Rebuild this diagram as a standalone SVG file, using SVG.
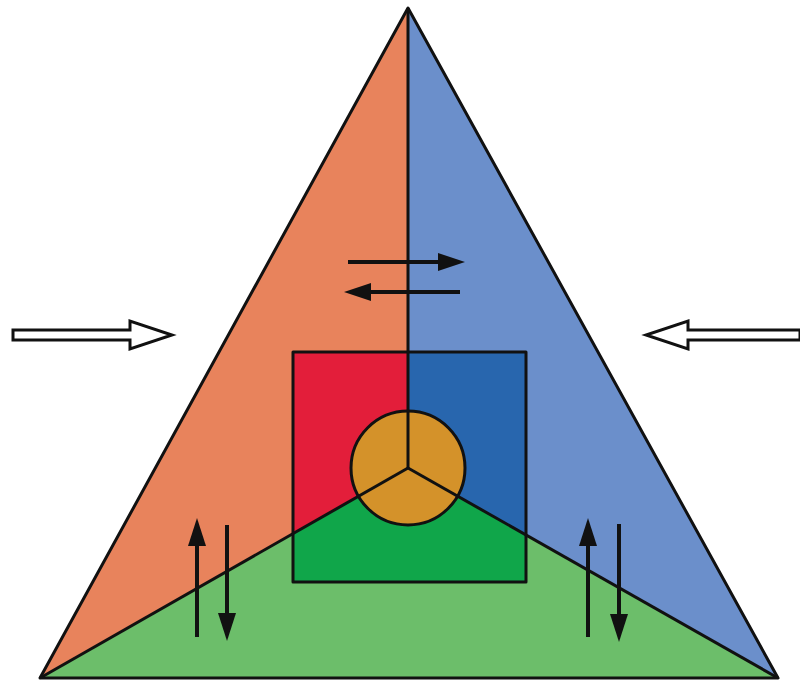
<svg xmlns="http://www.w3.org/2000/svg" width="800" height="683" viewBox="0 0 800 683">
<defs>
<style>
.edge{stroke:#111;stroke-width:3;stroke-linejoin:round;fill:none}
.arr{stroke:#111;stroke-width:4;fill:none}
.head{fill:#111}
.hollow{fill:#fff;stroke:#111;stroke-width:3;stroke-linejoin:miter}
</style>
<clipPath id="sq"><rect x="293" y="352" width="233" height="230"/></clipPath>
</defs>
<rect width="800" height="683" fill="#fff"/>
<g id="triangle">
<polygon points="408,8 408,468 40,678" fill="#E8835C"/>
<polygon points="408,8 778,678 408,468" fill="#6B8FCB"/>
<polygon points="40,678 408,468 778,678" fill="#6CBE6A"/>
</g>
<g id="square">
<g clip-path="url(#sq)">
<polygon points="408,8 408,468 40,678" fill="#E31E3A"/>
<polygon points="408,8 778,678 408,468" fill="#2866AE"/>
<polygon points="40,678 408,468 778,678" fill="#10A64A"/>
</g>
<rect x="293" y="352" width="233" height="230" class="edge"/>
</g>
<g id="circle">
<circle cx="408" cy="468" r="57" fill="#D4922A"/>
</g>
<g id="dividers">
<line x1="408" y1="8" x2="408" y2="468" class="edge"/>
<line x1="408" y1="468" x2="40" y2="678" class="edge"/>
<line x1="408" y1="468" x2="778" y2="678" class="edge"/>
<circle cx="408" cy="468" r="57" class="edge"/>
<polygon points="408,8 778,678 40,678" class="edge"/>
</g>
<g id="connectors">
<path class="hollow" d="M13,330 H130 V321 L172,335 L130,349 V340 H13 Z"/>
<path class="hollow" d="M800,330 H688 V321 L646,335 L688,349 V340 H800 Z"/>
<line x1="348" y1="262" x2="440" y2="262" class="arr"/>
<polygon class="head" points="465,262 438,253 438,271"/>
<line x1="460" y1="292" x2="370" y2="292" class="arr"/>
<polygon class="head" points="344,292 371,283 371,301"/>
<line x1="197" y1="637" x2="197" y2="545" class="arr"/>
<polygon class="head" points="197,518 188,546 206,546"/>
<line x1="227" y1="525" x2="227" y2="615" class="arr"/>
<polygon class="head" points="227,641 218,613 236,613"/>
<line x1="588" y1="637" x2="588" y2="545" class="arr"/>
<polygon class="head" points="588,518 579,546 597,546"/>
<line x1="619" y1="524" x2="619" y2="615" class="arr"/>
<polygon class="head" points="619,642 610,614 628,614"/>
</g>
</svg>
